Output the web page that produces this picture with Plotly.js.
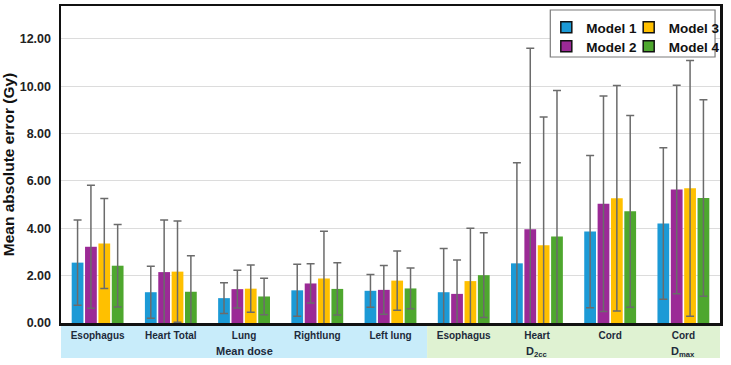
<!DOCTYPE html>
<html><head><meta charset="utf-8">
<script src="https://cdn.plot.ly/plotly-3.0.1.min.js"></script>
<style>html,body{margin:0;padding:0;background:#fff}#chart{width:731px;height:365px}</style>
</head><body><div id="chart"></div>
<script>
const categories = ["Esophagus","Heart Total","Lung","Rightlung","Left lung","Esophagus","Heart","Cord","Cord"];
const seriesNames = ["Model 1","Model 2","Model 3","Model 4"];
const model1 = [2.55, 1.30, 1.05, 1.38, 1.36, 1.30, 2.52, 3.86, 4.20];
const err1   = [1.80, 1.10, 0.65, 1.10, 0.69, 1.85, 4.25, 3.22, 3.20];
const model2 = [3.22, 2.15, 1.43, 1.67, 1.40, 1.23, 3.96, 5.04, 5.64];
const err2   = [2.60, 2.20, 0.80, 0.83, 1.03, 1.43, 7.65, 4.55, 4.40];
const model3 = [3.36, 2.17, 1.45, 1.88, 1.79, 1.77, 3.28, 5.27, 5.69];
const err3   = [1.90, 2.14, 1.00, 2.00, 1.25, 2.23, 5.42, 4.76, 5.40];
const model4 = [2.42, 1.32, 1.12, 1.44, 1.46, 2.02, 3.65, 4.72, 5.28];
const err4   = [1.74, 1.52, 0.77, 1.10, 0.86, 1.79, 6.17, 4.05, 4.15];
const groupLabels = ["Mean dose","D<sub>2cc</sub>","D<sub>max</sub>"];
const yTicks = [0,2,4,6,8,10,12];

const colors = ["#1c9ad6","#9b2a96","#ffc000","#4ea72e"];
const values = [model1, model2, model3, model4];
const errs = [err1, err2, err3, err4];
const xs = categories.map((c,i)=>i);
const FONT = "Liberation Sans, Arial, sans-serif";

const traces = values.map((v,k)=>({
  type:"bar", x:xs, y:v, name:seriesNames[k], showlegend:false,
  marker:{color:colors[k], line:{width:0}},
  error_y:{type:"data", array:errs[k], visible:true, color:"#6b6b6b", thickness:1.5, width:4}
}));
// legend-only entries, one legend per entry (2x2 layout)
const legendIds = ["legend","legend3","legend2","legend4"];
values.forEach((v,k)=>{
  traces.push({type:"scatter", mode:"markers", x:[null], y:[null], name:seriesNames[k],
    legend: legendIds[k],
    marker:{symbol:"square", size:11, color:colors[k], line:{color:"#111", width:1.5}}});
});

const H = 317; // plot height px
const py = p => (323 - p)/H;
const px = p => (p - 61)/664;
const legFont = {family:FONT, size:13.5, color:"#111", weight:"bold"};
const mkLeg = (lx, ly) => ({x:px(lx), y:py(ly), xanchor:"left", yanchor:"top", bgcolor:"rgba(0,0,0,0)",
  font:legFont, itemwidth:30, borderwidth:0});

const layout = {
  width:731, height:365,
  margin:{l:61, r:6, t:6, b:42},
  paper_bgcolor:"#fff", plot_bgcolor:"#fff",
  bargap:0.27, bargroupgap:0.12, barmode:"group",
  font:{family:FONT, color:"#111"},
  xaxis:{range:[-0.5,8.5], tickvals:xs, ticktext:categories, showgrid:false, zeroline:false,
    showline:true, mirror:true, linecolor:"#111", linewidth:2.5, ticks:"",
    tickfont:{family:FONT, size:10, color:"#1d2a3a", weight:"bold"}, ticklabelstandoff:1},
  yaxis:{range:[0,13.39], tickvals:yTicks, tickformat:".2f", showgrid:true, gridcolor:"#dcdcdc", gridwidth:1,
    zeroline:false, showline:true, mirror:true, linecolor:"#111", linewidth:2.5, ticks:"",
    tickfont:{family:FONT, size:12.5, color:"#222", weight:"bold"}, ticklabelstandoff:5,
    title:{text:"Mean absolute error (Gy)", font:{family:FONT, size:15.5, color:"#111", weight:"bold"}, standoff:4}},
  legend:mkLeg(550, 12),
  legend3:mkLeg(550, 31),
  legend2:mkLeg(633, 12),
  legend4:mkLeg(633, 31),
  shapes:[
    {type:"rect", xref:"x", yref:"paper", x0:-0.5, x1:4.5, y0:py(358), y1:py(326), fillcolor:"#c8ecfa", line:{width:0}, layer:"below"},
    {type:"rect", xref:"x", yref:"paper", x0:4.5, x1:8.5, y0:py(358), y1:py(326), fillcolor:"#dff2d2", line:{width:0}, layer:"below"},
    {type:"rect", xref:"paper", yref:"paper", x0:px(554), x1:px(720), y0:py(57), y1:py(10), fillcolor:"#fff", line:{color:"#7a7a7a", width:1.2}, layer:"above"}
  ],
  annotations:[
    {xref:"x", yref:"paper", x:2, y:py(351), text:groupLabels[0], showarrow:false, yanchor:"middle", font:{family:FONT, size:11, color:"#1d2a3a", weight:"bold"}},
    {xref:"x", yref:"paper", x:6, y:py(352), text:groupLabels[1], showarrow:false, yanchor:"middle", font:{family:FONT, size:11, color:"#1d2a3a", weight:"bold"}},
    {xref:"x", yref:"paper", x:8, y:py(352), text:groupLabels[2], showarrow:false, yanchor:"middle", font:{family:FONT, size:11, color:"#1d2a3a", weight:"bold"}}
  ]
};
Plotly.newPlot("chart", traces, layout, {displayModeBar:false, staticPlot:true});
</script></body></html>
